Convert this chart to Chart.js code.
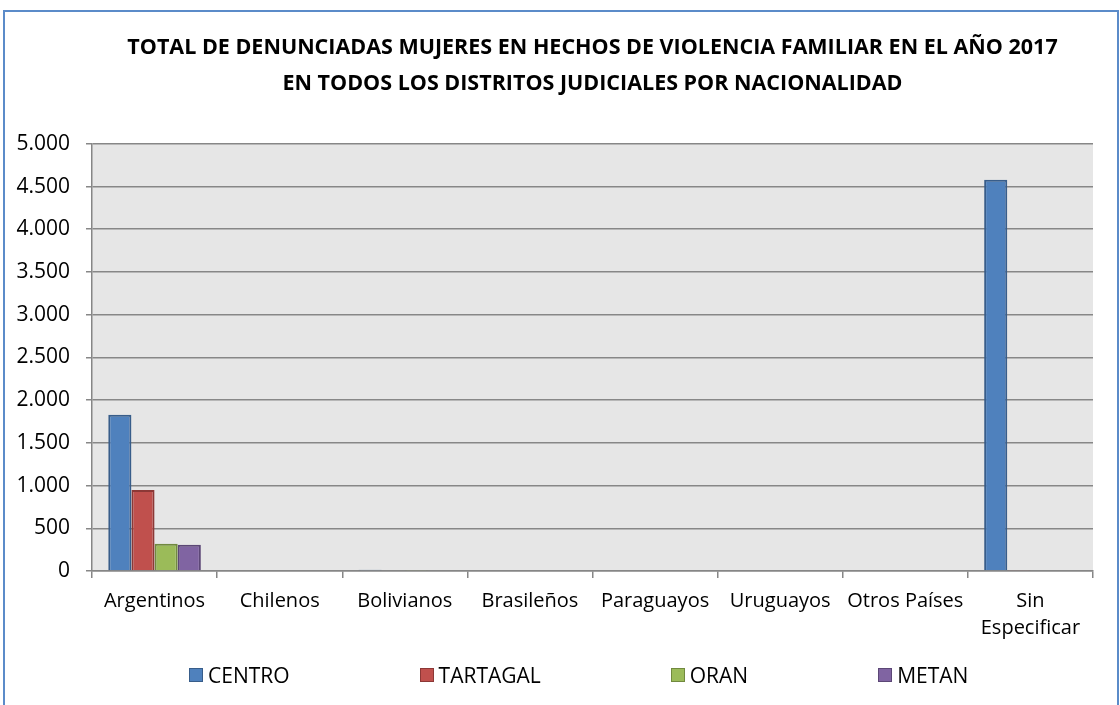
<!DOCTYPE html>
<html>
<head>
<meta charset="utf-8">
<script src="https://cdn.jsdelivr.net/npm/chart.js@4"></script>
<style>
  body { margin: 0; background: #fff; }
  #wrap { position: relative; width: 1120px; height: 705px; }
  #frame { position: absolute; left: 3px; top: 10px; width: 1112px; height: 720px;
           border: 2px solid #5b8bc9; pointer-events: none; }
  #legend { position: absolute; left: 189px; top: 661px; display: flex; gap: 130px;
            font-family: "Open Sans", sans-serif; font-size: 21px; color: #000; }
  .item { display: flex; align-items: center; }
  .box { width: 12px; height: 12px; margin-right: 5px; border: 1px solid; }
</style>
</head>
<body>
<div id="wrap">
  <canvas id="chart" width="1120" height="705"></canvas>
  <div id="frame"></div>
  <div id="legend"></div>
</div>
<script>
let categories = ["Argentinos", "Chilenos", "Bolivianos", "Brasileños", "Paraguayos", "Uruguayos", "Otros Países", ["Sin", "Especificar"]];
let centro = [1830, 10, 15, 0, 8, 0, 0, 4578];
let tartagal = [948, 0, 0, 0, 0, 0, 0, 12];
let oran = [320, 0, 5, 0, 0, 0, 0, 0];
let metan = [308, 0, 0, 0, 0, 0, 0, 0];
let seriesNames = ["CENTRO", "TARTAGAL", "ORAN", "METAN"];
let fills = ["#4f81bd", "#c0504d", "#9bbb59", "#8064a2"];
let borders = ["#385d8a", "#8c3836", "#71893f", "#5c4776"];

function fmt(v) {
    return String(v).replace(/\B(?=(\d{3})+(?!\d))/g, ".");
}

// gray plot background
const plotBg = {
    id: "plotBg",
    beforeDraw(c) {
        const a = c.chartArea;
        c.ctx.save();
        c.ctx.fillStyle = "#e6e6e6";
        c.ctx.fillRect(a.left, a.top, a.right - a.left, a.bottom - a.top);
        c.ctx.restore();
    }
};

let values = [centro, tartagal, oran, metan];
let ctx = document.getElementById("chart").getContext("2d");

new Chart(ctx, {
    type: "bar",
    data: {
        labels: categories,
        datasets: seriesNames.map((n, i) => ({
            label: n,
            data: values[i],
            backgroundColor: fills[i],
            borderColor: borders[i],
            borderWidth: 2,
            categoryPercentage: 0.74,
            barPercentage: 1
        }))
    },
    options: {
        responsive: false,
        animation: false,
        layout: { padding: { top: 0, right: 27, bottom: 0, left: 0 } },
        plugins: {
            legend: { display: false },
            tooltip: { enabled: false },
            title: {
                display: true,
                fullSize: false,   // centre over the plot area
                text: ["TOTAL DE DENUNCIADAS MUJERES EN HECHOS DE VIOLENCIA FAMILIAR EN EL AÑO 2017",
                       "EN TODOS LOS DISTRITOS JUDICIALES POR NACIONALIDAD"],
                color: "#000",
                font: { family: "Open Sans", size: 21.5, weight: "bold", lineHeight: 1.67 },
                padding: { top: 30, bottom: 42 }
            }
        },
        scales: {
            x: {
                afterFit(s) { s.height = 134; },
                grid: { offset: true, drawOnChartArea: false, drawTicks: true, tickLength: 7, color: "#868686", lineWidth: 1.5 },
                border: { color: "#868686", width: 1.5 },
                ticks: { color: "#000", padding: 10, maxRotation: 0, autoSkip: false,
                         font: { family: "Open Sans", size: 20, lineHeight: 1.35 } }
            },
            y: {
                min: 0,
                max: 5000,
                afterFit(s) { s.width = 92; },
                grid: { color: "#878787", lineWidth: 1.5, tickLength: 6 },
                border: { color: "#868686", width: 1.5 },
                ticks: { stepSize: 500, color: "#000", padding: 16,
                         font: { family: "Open Sans", size: 21 },
                         callback: v => fmt(v) }
            }
        }
    },
    plugins: [plotBg]
});

let legend = document.getElementById("legend");
seriesNames.forEach((n, i) => {
    let it = document.createElement("div");
    it.className = "item";
    it.innerHTML = '<span class="box" style="background:' + fills[i] + ';border-color:' + borders[i] + '"></span>' + n;
    legend.appendChild(it);
});
</script>
</body>
</html>
